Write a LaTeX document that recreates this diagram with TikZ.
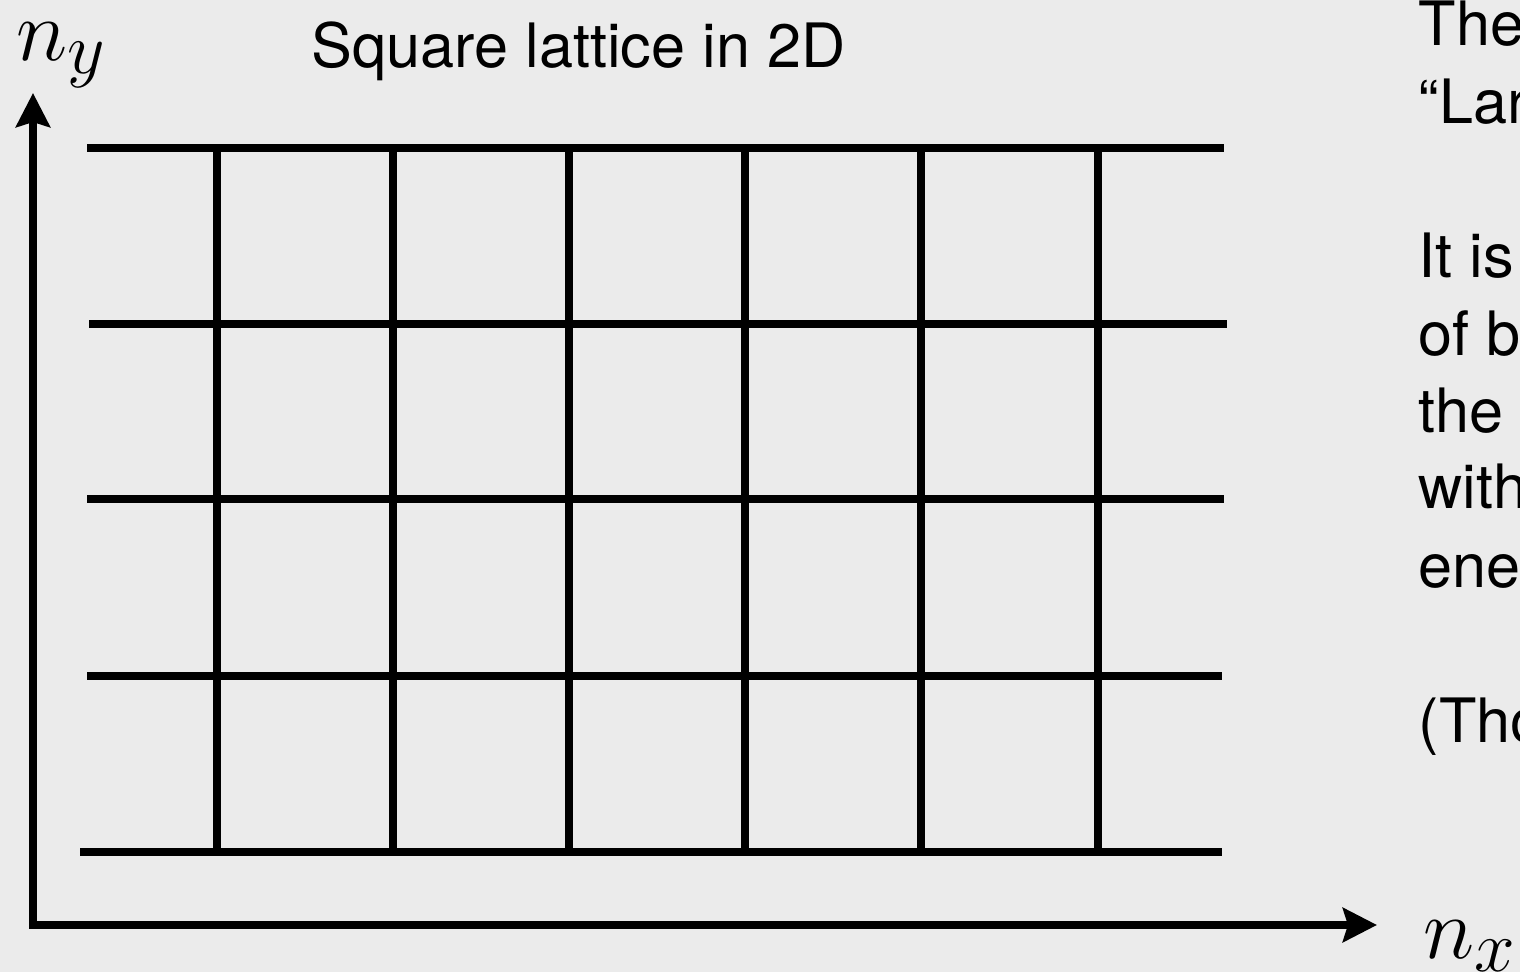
\documentclass[tikz,border=0pt]{standalone}
\usepackage{fontspec}
\setmainfont{TeX Gyre Heros}
\usetikzlibrary{arrows.meta}
\definecolor{slidebg}{RGB}{235,235,235}

\begin{document}
\begin{tikzpicture}[x=0.01cm,y=-0.01cm,
    latline/.style={line width=2.1pt},
    axisline/.style={line width=2.1pt,
      {Stealth[length=3.4mm,width=3.4mm,inset=0.5mm]}-{Stealth[length=3.4mm,width=3.4mm,inset=0.5mm]}},
    mathlbl/.style={anchor=base west,inner sep=0pt,font=\fontsize{30}{36}\selectfont},
    txt/.style={anchor=base west,inner sep=0pt,font=\fontsize{17.4}{21}\selectfont}]
  % Slide
  \useasboundingbox (0,0) rectangle (1520,972);
  \clip (0,0) rectangle (1520,972);
  \fill[slidebg] (0,0) rectangle (1520,972);

  % Axes
  \draw[axisline, line join=miter] (33,93) |- (1377,925);
  \node[mathlbl] (ny) at (16,60) {$n_y$};
  \node[mathlbl] (nx) at (1423,958) {$n_x$};

  % Lattice rows
  \draw[latline] (87,148) -- (1224,148);
  \draw[latline] (89,324) -- (1227,324);
  \draw[latline] (87,499) -- (1224,499);
  \draw[latline] (87,676) -- (1222,676);
  \draw[latline] (80,852) -- (1222,852);

  % Lattice columns
  \draw[latline] (217,148) -- (217,852);
  \draw[latline] (393,148) -- (393,852);
  \draw[latline] (569,148) -- (569,852);
  \draw[latline] (745,148) -- (745,852);
  \draw[latline] (921,148) -- (921,852);
  \draw[latline] (1098,148) -- (1098,852);

  % Title
  \node[txt] (title) at (311,67) {Square lattice in 2D};

  % Text on the right (cut by the slide edge)
  \node[txt] (t1) at (1418,45) {The};
  \node[txt] (t2) at (1418,123) {``Lar};
  \node[txt] (t3) at (1418,277) {It is};
  \node[txt] (t4) at (1418,355) {of b};
  \node[txt] (t5) at (1418,432) {the};
  \node[txt] (t6) at (1418,508) {with};
  \node[txt] (t7) at (1418,587) {ene};
  \node[txt] (t8) at (1418,742) {(Tho};
\end{tikzpicture}
\end{document}
